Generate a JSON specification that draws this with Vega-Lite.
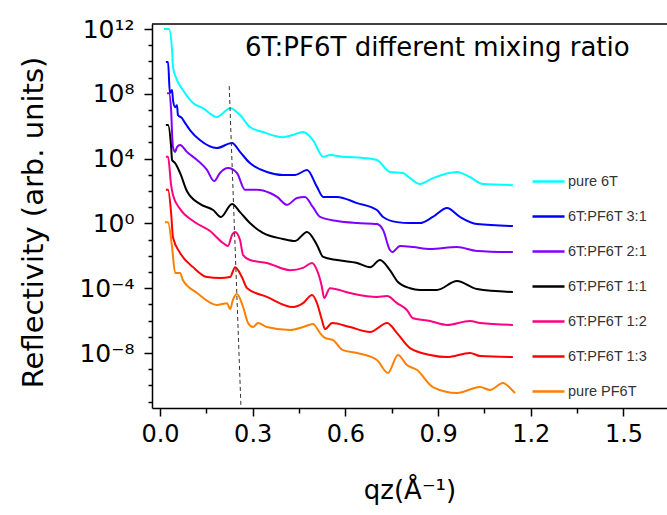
{
  "$schema": "https://vega.github.io/schema/vega-lite/v6.json",
  "width": 515,
  "height": 384,
  "autosize": "none",
  "padding": {"left": 152, "top": 24, "right": 0, "bottom": 107},
  "config": {"view": {"stroke": null}, "font": "DejaVu Sans"},
  "datasets": {
    "curves": [
      {"s": "pure 6T", "q": 0.013, "r": 1.0e12}, {"s": "pure 6T", "q": 0.029, "r": 1.0e12}, {"s": "pure 6T", "q": 0.039, "r": 5.0e10}, {"s": "pure 6T", "q": 0.042, "r": 4.5e9}, {"s": "pure 6T", "q": 0.055, "r": 7.1e8}, {"s": "pure 6T", "q": 0.074, "r": 1.7e8}, {"s": "pure 6T", "q": 0.107, "r": 2.7e7}, {"s": "pure 6T", "q": 0.139, "r": 1.3e7}, {"s": "pure 6T", "q": 0.184, "r": 3.7e6}, {"s": "pure 6T", "q": 0.227, "r": 1.3e7}, {"s": "pure 6T", "q": 0.259, "r": 4.9e6}, {"s": "pure 6T", "q": 0.291, "r": 8.9e5}, {"s": "pure 6T", "q": 0.333, "r": 4.4e5}, {"s": "pure 6T", "q": 0.398, "r": 2.1e5}, {"s": "pure 6T", "q": 0.430, "r": 2.9e5}, {"s": "pure 6T", "q": 0.463, "r": 4.4e5}, {"s": "pure 6T", "q": 0.495, "r": 1.4e5}, {"s": "pure 6T", "q": 0.528, "r": 1.3e4}, {"s": "pure 6T", "q": 0.550, "r": 1.7e4}, {"s": "pure 6T", "q": 0.592, "r": 1.3e4}, {"s": "pure 6T", "q": 0.657, "r": 1.1e4}, {"s": "pure 6T", "q": 0.702, "r": 8.2e3}, {"s": "pure 6T", "q": 0.744, "r": 1.5e3}, {"s": "pure 6T", "q": 0.786, "r": 1.3e3}, {"s": "pure 6T", "q": 0.809, "r": 6.3e2}, {"s": "pure 6T", "q": 0.841, "r": 2.7e2}, {"s": "pure 6T", "q": 0.883, "r": 6.3e2}, {"s": "pure 6T", "q": 0.961, "r": 1.5e3}, {"s": "pure 6T", "q": 1.003, "r": 7.3e2}, {"s": "pure 6T", "q": 1.045, "r": 2.7e2}, {"s": "pure 6T", "q": 1.142, "r": 2.3e2},

      {"s": "6T:PF6T 3:1", "q": 0.019, "r": 9.1e9}, {"s": "6T:PF6T 3:1", "q": 0.026, "r": 9.1e9}, {"s": "6T:PF6T 3:1", "q": 0.032, "r": 1.1e8}, {"s": "6T:PF6T 3:1", "q": 0.039, "r": 1.7e8}, {"s": "6T:PF6T 3:1", "q": 0.042, "r": 4.2e7}, {"s": "6T:PF6T 3:1", "q": 0.049, "r": 1.5e7}, {"s": "6T:PF6T 3:1", "q": 0.055, "r": 2.0e7}, {"s": "6T:PF6T 3:1", "q": 0.058, "r": 4.9e6}, {"s": "6T:PF6T 3:1", "q": 0.071, "r": 3.2e6}, {"s": "6T:PF6T 3:1", "q": 0.081, "r": 1.6e6}, {"s": "6T:PF6T 3:1", "q": 0.097, "r": 5.8e5}, {"s": "6T:PF6T 3:1", "q": 0.129, "r": 1.4e5}, {"s": "6T:PF6T 3:1", "q": 0.184, "r": 4.5e4}, {"s": "6T:PF6T 3:1", "q": 0.233, "r": 9.2e4}, {"s": "6T:PF6T 3:1", "q": 0.259, "r": 2.6e4}, {"s": "6T:PF6T 3:1", "q": 0.291, "r": 5.3e3}, {"s": "6T:PF6T 3:1", "q": 0.346, "r": 1.5e3}, {"s": "6T:PF6T 3:1", "q": 0.398, "r": 9.7e2}, {"s": "6T:PF6T 3:1", "q": 0.437, "r": 9.7e2}, {"s": "6T:PF6T 3:1", "q": 0.476, "r": 2.0e3}, {"s": "6T:PF6T 3:1", "q": 0.508, "r": 1.8e2}, {"s": "6T:PF6T 3:1", "q": 0.528, "r": 4.3e1}, {"s": "6T:PF6T 3:1", "q": 0.573, "r": 4.3e1}, {"s": "6T:PF6T 3:1", "q": 0.638, "r": 1.8e1}, {"s": "6T:PF6T 3:1", "q": 0.702, "r": 6.7}, {"s": "6T:PF6T 3:1", "q": 0.722, "r": 2.5}, {"s": "6T:PF6T 3:1", "q": 0.767, "r": 1.2}, {"s": "6T:PF6T 3:1", "q": 0.809, "r": 1.05}, {"s": "6T:PF6T 3:1", "q": 0.841, "r": 1.05}, {"s": "6T:PF6T 3:1", "q": 0.883, "r": 2.5}, {"s": "6T:PF6T 3:1", "q": 0.929, "r": 8.9}, {"s": "6T:PF6T 3:1", "q": 0.971, "r": 2.5}, {"s": "6T:PF6T 3:1", "q": 1.026, "r": 0.91}, {"s": "6T:PF6T 3:1", "q": 1.142, "r": 0.69},

      {"s": "6T:PF6T 2:1", "q": 0.023, "r": 1.1e8}, {"s": "6T:PF6T 2:1", "q": 0.029, "r": 1.1e8}, {"s": "6T:PF6T 2:1", "q": 0.036, "r": 1.0e7}, {"s": "6T:PF6T 2:1", "q": 0.039, "r": 3.8e5}, {"s": "6T:PF6T 2:1", "q": 0.042, "r": 5.2e4}, {"s": "6T:PF6T 2:1", "q": 0.049, "r": 2.6e4}, {"s": "6T:PF6T 2:1", "q": 0.055, "r": 5.2e4}, {"s": "6T:PF6T 2:1", "q": 0.065, "r": 6.9e4}, {"s": "6T:PF6T 2:1", "q": 0.087, "r": 2.6e4}, {"s": "6T:PF6T 2:1", "q": 0.120, "r": 8.2e3}, {"s": "6T:PF6T 2:1", "q": 0.152, "r": 2.0e3}, {"s": "6T:PF6T 2:1", "q": 0.175, "r": 4.1e2}, {"s": "6T:PF6T 2:1", "q": 0.194, "r": 1.3e3}, {"s": "6T:PF6T 2:1", "q": 0.220, "r": 2.6e3}, {"s": "6T:PF6T 2:1", "q": 0.249, "r": 1.3e3}, {"s": "6T:PF6T 2:1", "q": 0.275, "r": 1.2e2}, {"s": "6T:PF6T 2:1", "q": 0.314, "r": 1.2e2}, {"s": "6T:PF6T 2:1", "q": 0.356, "r": 7.5e1}, {"s": "6T:PF6T 2:1", "q": 0.379, "r": 4.3e1}, {"s": "6T:PF6T 2:1", "q": 0.411, "r": 1.4e1}, {"s": "6T:PF6T 2:1", "q": 0.443, "r": 3.7e1}, {"s": "6T:PF6T 2:1", "q": 0.469, "r": 4.3e1}, {"s": "6T:PF6T 2:1", "q": 0.495, "r": 1.0e1}, {"s": "6T:PF6T 2:1", "q": 0.518, "r": 2.5}, {"s": "6T:PF6T 2:1", "q": 0.573, "r": 1.4}, {"s": "6T:PF6T 2:1", "q": 0.638, "r": 1.05}, {"s": "6T:PF6T 2:1", "q": 0.702, "r": 0.91}, {"s": "6T:PF6T 2:1", "q": 0.722, "r": 0.39}, {"s": "6T:PF6T 2:1", "q": 0.744, "r": 2.3e-2}, {"s": "6T:PF6T 2:1", "q": 0.751, "r": 1.7e-2}, {"s": "6T:PF6T 2:1", "q": 0.777, "r": 4.0e-2}, {"s": "6T:PF6T 2:1", "q": 0.819, "r": 3.5e-2}, {"s": "6T:PF6T 2:1", "q": 0.874, "r": 2.6e-2}, {"s": "6T:PF6T 2:1", "q": 0.961, "r": 3.5e-2}, {"s": "6T:PF6T 2:1", "q": 1.026, "r": 2.0e-2}, {"s": "6T:PF6T 2:1", "q": 1.142, "r": 1.7e-2},

      {"s": "6T:PF6T 1:1", "q": 0.019, "r": 1.2e6}, {"s": "6T:PF6T 1:1", "q": 0.026, "r": 1.2e6}, {"s": "6T:PF6T 1:1", "q": 0.036, "r": 5.2e4}, {"s": "6T:PF6T 1:1", "q": 0.039, "r": 8.2e3}, {"s": "6T:PF6T 1:1", "q": 0.049, "r": 5.3e3}, {"s": "6T:PF6T 1:1", "q": 0.065, "r": 1.3e3}, {"s": "6T:PF6T 1:1", "q": 0.087, "r": 1.0e2}, {"s": "6T:PF6T 1:1", "q": 0.129, "r": 1.6e1}, {"s": "6T:PF6T 1:1", "q": 0.172, "r": 6.7}, {"s": "6T:PF6T 1:1", "q": 0.197, "r": 2.5}, {"s": "6T:PF6T 1:1", "q": 0.233, "r": 1.6e1}, {"s": "6T:PF6T 1:1", "q": 0.259, "r": 5.0}, {"s": "6T:PF6T 1:1", "q": 0.291, "r": 1.05}, {"s": "6T:PF6T 1:1", "q": 0.333, "r": 0.26}, {"s": "6T:PF6T 1:1", "q": 0.398, "r": 0.11}, {"s": "6T:PF6T 1:1", "q": 0.437, "r": 8.2e-2}, {"s": "6T:PF6T 1:1", "q": 0.476, "r": 0.30}, {"s": "6T:PF6T 1:1", "q": 0.508, "r": 4.7e-2}, {"s": "6T:PF6T 1:1", "q": 0.528, "r": 8.5e-3}, {"s": "6T:PF6T 1:1", "q": 0.573, "r": 5.5e-3}, {"s": "6T:PF6T 1:1", "q": 0.638, "r": 3.6e-3}, {"s": "6T:PF6T 1:1", "q": 0.680, "r": 2.0e-3}, {"s": "6T:PF6T 1:1", "q": 0.712, "r": 5.5e-3}, {"s": "6T:PF6T 1:1", "q": 0.744, "r": 1.3e-3}, {"s": "6T:PF6T 1:1", "q": 0.770, "r": 2.4e-4}, {"s": "6T:PF6T 1:1", "q": 0.809, "r": 1.0e-4}, {"s": "6T:PF6T 1:1", "q": 0.841, "r": 7.8e-5}, {"s": "6T:PF6T 1:1", "q": 0.896, "r": 7.8e-5}, {"s": "6T:PF6T 1:1", "q": 0.961, "r": 2.8e-4}, {"s": "6T:PF6T 1:1", "q": 1.026, "r": 8.9e-5}, {"s": "6T:PF6T 1:1", "q": 1.142, "r": 5.8e-5},

      {"s": "6T:PF6T 1:2", "q": 0.019, "r": 1.3e4}, {"s": "6T:PF6T 1:2", "q": 0.026, "r": 1.3e4}, {"s": "6T:PF6T 1:2", "q": 0.036, "r": 2.3e2}, {"s": "6T:PF6T 1:2", "q": 0.042, "r": 5.7e1}, {"s": "6T:PF6T 1:2", "q": 0.065, "r": 7.7}, {"s": "6T:PF6T 1:2", "q": 0.107, "r": 1.4}, {"s": "6T:PF6T 1:2", "q": 0.162, "r": 0.34}, {"s": "6T:PF6T 1:2", "q": 0.204, "r": 6.2e-2}, {"s": "6T:PF6T 1:2", "q": 0.220, "r": 4.0e-2}, {"s": "6T:PF6T 1:2", "q": 0.233, "r": 0.19}, {"s": "6T:PF6T 1:2", "q": 0.243, "r": 0.30}, {"s": "6T:PF6T 1:2", "q": 0.259, "r": 9.5e-2}, {"s": "6T:PF6T 1:2", "q": 0.269, "r": 1.1e-2}, {"s": "6T:PF6T 1:2", "q": 0.291, "r": 5.5e-3}, {"s": "6T:PF6T 1:2", "q": 0.346, "r": 3.6e-3}, {"s": "6T:PF6T 1:2", "q": 0.421, "r": 1.3e-3}, {"s": "6T:PF6T 1:2", "q": 0.463, "r": 1.8e-3}, {"s": "6T:PF6T 1:2", "q": 0.492, "r": 3.6e-3}, {"s": "6T:PF6T 1:2", "q": 0.508, "r": 1.3e-3}, {"s": "6T:PF6T 1:2", "q": 0.524, "r": 1.2e-4}, {"s": "6T:PF6T 1:2", "q": 0.531, "r": 2.5e-5}, {"s": "6T:PF6T 1:2", "q": 0.550, "r": 1.0e-4}, {"s": "6T:PF6T 1:2", "q": 0.615, "r": 5.0e-5}, {"s": "6T:PF6T 1:2", "q": 0.702, "r": 2.9e-5}, {"s": "6T:PF6T 1:2", "q": 0.735, "r": 3.3e-5}, {"s": "6T:PF6T 1:2", "q": 0.767, "r": 1.2e-5}, {"s": "6T:PF6T 1:2", "q": 0.799, "r": 4.5e-6}, {"s": "6T:PF6T 1:2", "q": 0.819, "r": 1.4e-6}, {"s": "6T:PF6T 1:2", "q": 0.874, "r": 9.5e-7}, {"s": "6T:PF6T 1:2", "q": 0.929, "r": 5.4e-7}, {"s": "6T:PF6T 1:2", "q": 1.003, "r": 9.5e-7}, {"s": "6T:PF6T 1:2", "q": 1.036, "r": 7.1e-7}, {"s": "6T:PF6T 1:2", "q": 1.142, "r": 5.4e-7},

      {"s": "6T:PF6T 1:3", "q": 0.019, "r": 1.2e2}, {"s": "6T:PF6T 1:3", "q": 0.026, "r": 1.2e2}, {"s": "6T:PF6T 1:3", "q": 0.036, "r": 4.4}, {"s": "6T:PF6T 1:3", "q": 0.042, "r": 0.14}, {"s": "6T:PF6T 1:3", "q": 0.065, "r": 1.5e-2}, {"s": "6T:PF6T 1:3", "q": 0.107, "r": 2.0e-3}, {"s": "6T:PF6T 1:3", "q": 0.152, "r": 4.9e-4}, {"s": "6T:PF6T 1:3", "q": 0.194, "r": 4.3e-4}, {"s": "6T:PF6T 1:3", "q": 0.227, "r": 4.9e-4}, {"s": "6T:PF6T 1:3", "q": 0.243, "r": 2.0e-3}, {"s": "6T:PF6T 1:3", "q": 0.265, "r": 4.9e-4}, {"s": "6T:PF6T 1:3", "q": 0.282, "r": 1.0e-4}, {"s": "6T:PF6T 1:3", "q": 0.346, "r": 2.9e-5}, {"s": "6T:PF6T 1:3", "q": 0.430, "r": 6.9e-6}, {"s": "6T:PF6T 1:3", "q": 0.463, "r": 1.2e-5}, {"s": "6T:PF6T 1:3", "q": 0.492, "r": 3.8e-5}, {"s": "6T:PF6T 1:3", "q": 0.508, "r": 1.2e-5}, {"s": "6T:PF6T 1:3", "q": 0.524, "r": 1.1e-6}, {"s": "6T:PF6T 1:3", "q": 0.534, "r": 3.0e-7}, {"s": "6T:PF6T 1:3", "q": 0.557, "r": 7.1e-7}, {"s": "6T:PF6T 1:3", "q": 0.615, "r": 4.0e-7}, {"s": "6T:PF6T 1:3", "q": 0.680, "r": 2.0e-7}, {"s": "6T:PF6T 1:3", "q": 0.735, "r": 7.1e-7}, {"s": "6T:PF6T 1:3", "q": 0.767, "r": 1.7e-7}, {"s": "6T:PF6T 1:3", "q": 0.809, "r": 2.0e-8}, {"s": "6T:PF6T 1:3", "q": 0.874, "r": 7.6e-9}, {"s": "6T:PF6T 1:3", "q": 0.929, "r": 5.6e-9}, {"s": "6T:PF6T 1:3", "q": 1.003, "r": 1.0e-8}, {"s": "6T:PF6T 1:3", "q": 1.036, "r": 6.5e-9}, {"s": "6T:PF6T 1:3", "q": 1.142, "r": 5.6e-9},

      {"s": "pure PF6T", "q": 0.016, "r": 1.2}, {"s": "pure PF6T", "q": 0.026, "r": 1.2}, {"s": "pure PF6T", "q": 0.039, "r": 3.5e-2}, {"s": "pure PF6T", "q": 0.049, "r": 8.7e-4}, {"s": "pure PF6T", "q": 0.065, "r": 8.7e-4}, {"s": "pure PF6T", "q": 0.074, "r": 3.2e-4}, {"s": "pure PF6T", "q": 0.120, "r": 5.0e-5}, {"s": "pure PF6T", "q": 0.184, "r": 9.2e-6}, {"s": "pure PF6T", "q": 0.217, "r": 1.2e-5}, {"s": "pure PF6T", "q": 0.227, "r": 5.2e-6}, {"s": "pure PF6T", "q": 0.236, "r": 1.9e-5}, {"s": "pure PF6T", "q": 0.249, "r": 4.4e-5}, {"s": "pure PF6T", "q": 0.269, "r": 6.9e-6}, {"s": "pure PF6T", "q": 0.285, "r": 7.1e-7}, {"s": "pure PF6T", "q": 0.301, "r": 4.0e-7}, {"s": "pure PF6T", "q": 0.317, "r": 7.1e-7}, {"s": "pure PF6T", "q": 0.346, "r": 4.0e-7}, {"s": "pure PF6T", "q": 0.421, "r": 2.6e-7}, {"s": "pure PF6T", "q": 0.463, "r": 4.0e-7}, {"s": "pure PF6T", "q": 0.495, "r": 6.2e-7}, {"s": "pure PF6T", "q": 0.518, "r": 1.7e-7}, {"s": "pure PF6T", "q": 0.534, "r": 8.5e-8}, {"s": "pure PF6T", "q": 0.560, "r": 6.3e-8}, {"s": "pure PF6T", "q": 0.592, "r": 1.5e-8}, {"s": "pure PF6T", "q": 0.638, "r": 1.0e-8}, {"s": "pure PF6T", "q": 0.702, "r": 3.7e-9}, {"s": "pure PF6T", "q": 0.738, "r": 5.9e-10}, {"s": "pure PF6T", "q": 0.770, "r": 7.6e-9}, {"s": "pure PF6T", "q": 0.799, "r": 1.8e-9}, {"s": "pure PF6T", "q": 0.832, "r": 8.9e-10}, {"s": "pure PF6T", "q": 0.883, "r": 7.9e-11}, {"s": "pure PF6T", "q": 0.961, "r": 3.4e-11}, {"s": "pure PF6T", "q": 1.036, "r": 7.9e-11}, {"s": "pure PF6T", "q": 1.068, "r": 5.2e-11}, {"s": "pure PF6T", "q": 1.110, "r": 1.4e-10}, {"s": "pure PF6T", "q": 1.133, "r": 6.9e-11}, {"s": "pure PF6T", "q": 1.149, "r": 3.4e-11}
    ],
    "dash": [
      {"q": 0.224, "r": 3.0e8},
      {"q": 0.262, "r": 4.7e-12}
    ],
    "title": [
      {"label": "6T:PF6T different mixing ratio", "q": 0.275, "r": 6.7e10}
    ],
    "frame": [
      {"r": 2.04e12}
    ]
  },
  "layer": [
    {
      "data": {"name": "curves"},
      "mark": {"type": "line", "strokeWidth": 2, "interpolate": "monotone"},
      "encoding": {
        "x": {
          "field": "q", "type": "quantitative",
          "scale": {"domain": [-0.0259, 1.6408], "nice": false, "zero": false},
          "axis": {
            "title": "qz(Å⁻¹)",
            "titleFont": "DejaVu Sans", "titleFontSize": 26, "titleFontWeight": "normal", "titleColor": "#000000",
            "titleY": 82, "titleBaseline": "middle",
            "values": [0, 0.15, 0.3, 0.45, 0.6, 0.75, 0.9, 1.05, 1.2, 1.35, 1.5],
            "labelExpr": "round(datum.value*100)%30==0 ? format(datum.value, '.1f') : ''",
            "labelFont": "DejaVu Sans", "labelFontSize": 24, "labelColor": "#000000", "labelPadding": 6,
            "tickSize": {"condition": {"test": "round(datum.value*100)%30==0", "value": 8}, "value": 5},
            "tickColor": "#000000", "tickWidth": 1.5,
            "domainColor": "#000000", "domainWidth": 1.5,
            "grid": false
          }
        },
        "y": {
          "field": "r", "type": "quantitative",
          "scale": {"type": "log", "domain": [4.03e-12, 2.04e12], "nice": false},
          "axis": {
            "title": "Reflectivity (arb. units)",
            "titleFont": "DejaVu Sans", "titleFontSize": 29, "titleFontWeight": "normal", "titleColor": "#000000",
            "titleX": -119, "titleY": 198, "titleBaseline": "middle", "titleAngle": -90, "titleAlign": "center",
            "values": [1e-11, 1e-10, 1e-9, 1e-8, 1e-7, 1e-6, 1e-5, 1e-4, 1e-3, 1e-2, 1e-1, 1, 10, 100, 1e3, 1e4, 1e5, 1e6, 1e7, 1e8, 1e9, 1e10, 1e11, 1e12],
            "labelExpr": "round(log(datum.value)/LN10)==12 ? '10¹²' : round(log(datum.value)/LN10)==8 ? '10⁸' : round(log(datum.value)/LN10)==4 ? '10⁴' : round(log(datum.value)/LN10)==0 ? '10⁰' : round(log(datum.value)/LN10)==-4 ? '10⁻⁴' : round(log(datum.value)/LN10)==-8 ? '10⁻⁸' : ''",
            "labelFont": "DejaVu Sans", "labelFontSize": 25, "labelColor": "#000000", "labelPadding": 10,
            "tickSize": {"condition": {"test": "round(log(datum.value)/LN10)%4==0", "value": 8}, "value": 4},
            "tickColor": "#000000", "tickWidth": 1.5,
            "domainColor": "#000000", "domainWidth": 1.5,
            "grid": false
          }
        },
        "color": {
          "field": "s", "type": "nominal",
          "scale": {
            "domain": ["pure 6T", "6T:PF6T 3:1", "6T:PF6T 2:1", "6T:PF6T 1:1", "6T:PF6T 1:2", "6T:PF6T 1:3", "pure PF6T"],
            "range": ["#00FFFF", "#0000FF", "#8000FF", "#000000", "#FF0080", "#FF0000", "#FF8000"]
          },
          "legend": {
            "orient": "none", "legendX": 379, "legendY": 140,
            "title": null,
            "symbolType": "stroke", "symbolSize": 1024, "symbolStrokeWidth": 2.5,
            "labelFont": "Liberation Sans", "labelFontSize": 14.5, "labelColor": "#333333", "labelOffset": 2,
            "rowPadding": 11, "padding": 0
          }
        }
      }
    },
    {
      "data": {"name": "dash"},
      "mark": {"type": "line", "color": "#333333", "strokeWidth": 1, "strokeDash": [4, 3]},
      "encoding": {
        "x": {"field": "q", "type": "quantitative"},
        "y": {"field": "r", "type": "quantitative"}
      }
    },
    {
      "data": {"name": "frame"},
      "mark": {"type": "rule", "color": "#000000", "strokeWidth": 1.5},
      "encoding": {
        "y": {"field": "r", "type": "quantitative"}
      }
    },
    {
      "data": {"name": "title"},
      "mark": {"type": "text", "align": "left", "baseline": "middle", "fontSize": 26, "font": "DejaVu Sans", "color": "#000000"},
      "encoding": {
        "x": {"field": "q", "type": "quantitative"},
        "y": {"field": "r", "type": "quantitative"},
        "text": {"field": "label"}
      }
    }
  ]
}
